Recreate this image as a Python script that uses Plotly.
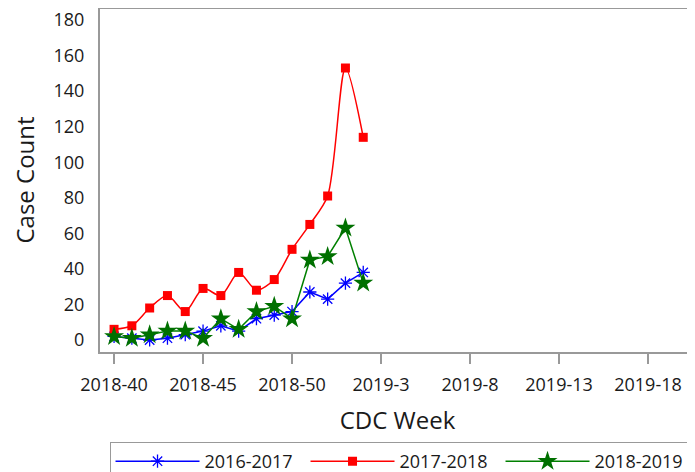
import plotly.graph_objects as go

weeks = ["2018-40", "2018-41", "2018-42", "2018-43", "2018-44", "2018-45", "2018-46",
         "2018-47", "2018-48", "2018-49", "2018-50", "2018-51", "2018-52", "2019-1", "2019-2"]
week_idx = list(range(len(weeks)))

s2016_2017 = [2, 1, 0, 1, 3, 5, 8, 5, 12, 14, 16, 27, 23, 32, 38]
s2017_2018 = [6, 8, 18, 25, 16, 29, 25, 38, 28, 34, 51, 65, 81, 153, 114]
s2018_2019 = [2, 1, 3, 5, 5, 1, 12, 6, 16, 19, 12, 45, 47, 63, 32]

tick_vals = [0, 5, 10, 15, 20, 25, 30]
tick_text = ["2018-40", "2018-45", "2018-50", "2019-3", "2019-8", "2019-13", "2019-18"]
y_ticks = [0, 20, 40, 60, 80, 100, 120, 140, 160, 180]

FONT = "Open Sans"

fig = go.Figure()
fig.add_trace(go.Scatter(
    x=week_idx, y=s2016_2017, name="2016-2017", mode="lines+markers",
    line=dict(color="#0000FF", width=1.5),
    marker=dict(symbol="asterisk-open", size=11, color="#0000FF", line=dict(color="#0000FF", width=1.3)),
))
fig.add_trace(go.Scatter(
    x=week_idx, y=s2017_2018, name="2017-2018", mode="lines+markers",
    line=dict(color="#FF0000", width=1.5, shape="spline", smoothing=0.8),
    marker=dict(symbol="square", size=9, color="#FF0000"),
))
fig.add_trace(go.Scatter(
    x=week_idx, y=s2018_2019, name="2018-2019", mode="lines+markers",
    line=dict(color="#008000", width=1.5),
    marker=dict(symbol="star", size=15, color="#007000"),
))

fig.update_layout(
    width=695, height=472,
    margin=dict(l=92, r=8, t=0, b=128, autoexpand=False),
    paper_bgcolor="white", plot_bgcolor="white",
    font=dict(family=FONT, color="#1a1a1a", size=18),
    showlegend=True,
    legend=dict(
        orientation="h", x=0.016, xanchor="left", y=-0.2616, yanchor="top",
        bordercolor="#999999", borderwidth=1, font=dict(size=18, family=FONT),
        itemwidth=84, tracegroupgap=0, entrywidth=96, entrywidthmode="pixels",
    ),
    xaxis=dict(
        range=[-0.79, 32.64], tickmode="array", tickvals=tick_vals, ticktext=tick_text,
        showgrid=False, zeroline=False, showline=True, linecolor="#999999", linewidth=2,
        ticks="outside", ticklen=10, tickcolor="#999999", tickwidth=2, ticklabelstandoff=5,
        tickfont=dict(size=18), title=dict(text="CDC Week", font=dict(size=24), standoff=18),
    ),
    yaxis=dict(
        range=[-6.75, 186.75], tickmode="array", tickvals=y_ticks,
        showgrid=False, zeroline=False, showline=True, linecolor="#999999", linewidth=2,
        ticks="", ticklabelstandoff=10, ticklabeloverflow="allow",
        tickfont=dict(size=18), title=dict(text="Case Count", font=dict(size=24), standoff=12),
    ),
    shapes=[dict(type="line", xref="paper", yref="paper", x0=0, x1=1, y0=1, y1=1,
                 line=dict(color="#999999", width=2))],
)

fig.write_html("out.html")
